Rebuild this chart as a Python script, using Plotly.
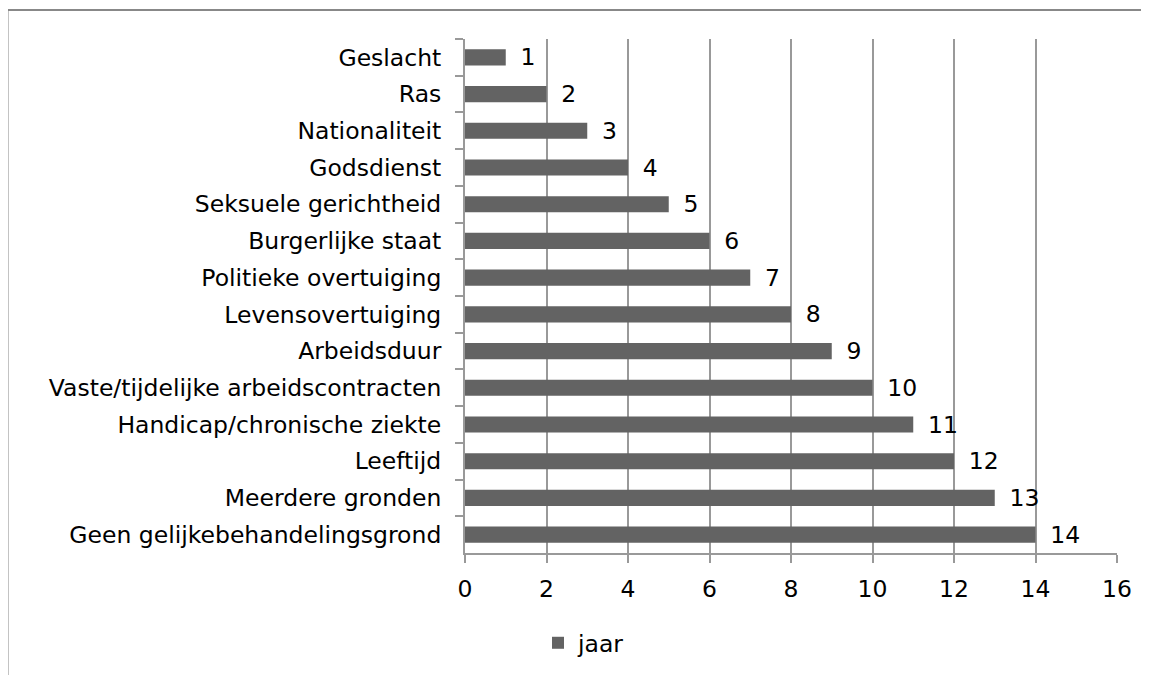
import plotly.graph_objects as go

categories = ["Geslacht", "Ras", "Nationaliteit", "Godsdienst", "Seksuele gerichtheid",
              "Burgerlijke staat", "Politieke overtuiging", "Levensovertuiging", "Arbeidsduur",
              "Vaste/tijdelijke arbeidscontracten", "Handicap/chronische ziekte", "Leeftijd",
              "Meerdere gronden", "Geen gelijkebehandelingsgrond"]
values = [1, 2, 3, 4, 5, 6, 7, 8, 9, 10, 11, 12, 13, 14]
series_name = "jaar"
x_ticks = [0, 2, 4, 6, 8, 10, 12, 14, 16]

# page body has an 8px margin, so figure coords = screen coords - 8
W, H = 1141, 667
L, R, T, B = 457, 32, 31, 122
pw, ph = W - L - R, H - T - B

def px(x):
    return (x - L) / pw

def py(y):
    return 1 - (y - T) / ph

FONT = "DejaVu Sans"
FS = 23.5
bar_color = "#636363"
grid_color = "#999999"

fig = go.Figure()
fig.add_trace(go.Bar(
    y=categories, x=values, orientation="h", name=series_name,
    marker=dict(color=bar_color, line=dict(width=0)),
    text=values, texttemplate="\u2002%{x}", textposition="outside",
    constraintext="none",
    textfont=dict(family=FONT, size=FS, color="#000000"),
    cliponaxis=False, width=0.44,
))

fig.update_layout(
    width=W, height=H,
    margin=dict(l=L, r=R, t=T, b=B, autoexpand=False),
    paper_bgcolor="white", plot_bgcolor="white",
    font=dict(family=FONT, size=FS, color="#000000"),
    showlegend=True,
    legend=dict(orientation="h", x=px(530), xanchor="left", y=py(635), yanchor="middle",
                font=dict(family=FONT, size=FS, color="#000000"),
                itemwidth=30, bgcolor="rgba(0,0,0,0)"),
    xaxis=dict(range=[0, 16], tickvals=x_ticks, showgrid=True, gridcolor=grid_color, gridwidth=2,
               showline=True, linecolor=grid_color, linewidth=2, ticks="outside", ticklen=8,
               tickcolor=grid_color, tickwidth=2, zeroline=False, ticklabelstandoff=6,
               tickfont=dict(family=FONT, size=FS, color="#000000"), fixedrange=True),
    yaxis=dict(categoryorder="array", categoryarray=categories, autorange="reversed",
               showline=True, linecolor=grid_color, linewidth=2, ticks="outside", ticklen=8,
               tickcolor=grid_color, tickwidth=2, tickson="boundaries", showgrid=False,
               ticklabelstandoff=17, tickfont=dict(family=FONT, size=FS, color="#000000"),
               fixedrange=True),
    shapes=[
        dict(type="line", xref="paper", yref="paper", x0=px(-0.5), x1=px(-0.5), y0=py(2), y1=py(700),
             line=dict(color="#888888", width=2)),
        dict(type="line", xref="paper", yref="paper", x0=px(-0.5), x1=px(W + 20), y0=py(2), y1=py(2),
             line=dict(color="#888888", width=2)),
    ],
)

fig.write_html("out.html")
